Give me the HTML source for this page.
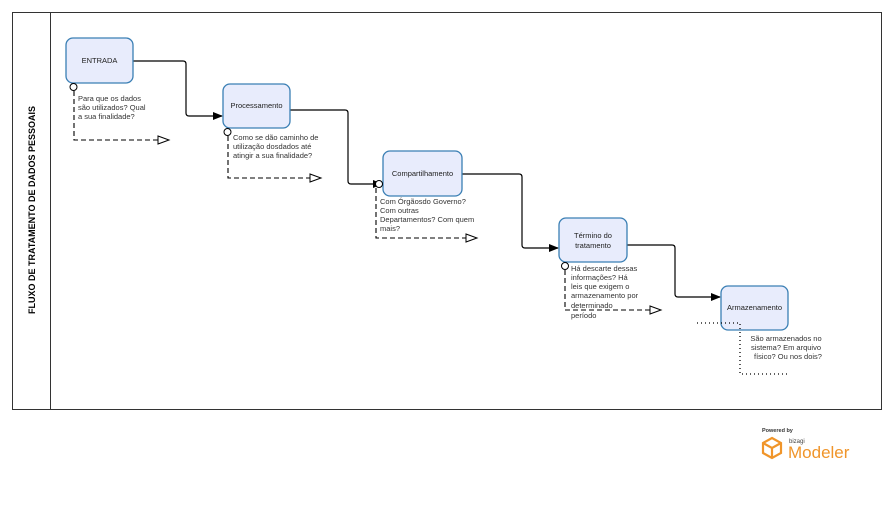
<!DOCTYPE html>
<html><head><meta charset="utf-8"><style>
html,body{margin:0;padding:0;background:#fff;}
svg{display:block;font-family:"Liberation Sans","DejaVu Sans",sans-serif;}
</style></head><body>
<svg width="894" height="519" viewBox="0 0 894 519" xmlns="http://www.w3.org/2000/svg">
<rect x="12.5" y="12.5" width="869" height="397" fill="#fff" stroke="#333" stroke-width="1"/>
<line x1="50.5" y1="12.5" x2="50.5" y2="409.5" stroke="#333"/>
<text transform="translate(35,210) rotate(-90)" text-anchor="middle" font-size="9" font-weight="bold" fill="#000">FLUXO DE TRATAMENTO DE DADOS PESSOAIS</text>

<defs>
<marker id="a" markerWidth="10" markerHeight="10" refX="9" refY="5" orient="auto" markerUnits="userSpaceOnUse"><path d="M0,1 L10,5 L0,9 Z" fill="#000"/></marker>
</defs>

<g fill="none" stroke="#000" stroke-width="1.2">
<path d="M133,61 H183 Q186,61 186,64 V113 Q186,116 189,116 H222" marker-end="url(#a)"/>
<path d="M290,110 H345 Q348,110 348,113 V181 Q348,184 351,184 H382" marker-end="url(#a)"/>
<path d="M462,174 H519 Q522,174 522,177 V245 Q522,248 525,248 H558" marker-end="url(#a)"/>
<path d="M627,245 H672 Q675,245 675,248 V294 Q675,297 678,297 H720" marker-end="url(#a)"/>
</g>

<g fill="#e8ecfc" stroke="#3a7fb4" stroke-width="1.3">
<rect x="66" y="38" width="67" height="45" rx="7"/>
<rect x="223" y="84" width="67" height="44" rx="7"/>
<rect x="383" y="151" width="79" height="45" rx="7"/>
<rect x="559" y="218" width="68" height="44" rx="7"/>
<rect x="721" y="286" width="67" height="44" rx="7"/>
</g>
<g font-size="7.5" fill="#222" text-anchor="middle">
<text x="99.5" y="63">ENTRADA</text>
<text x="256.5" y="108">Processamento</text>
<text x="422.5" y="176">Compartilhamento</text>
<text x="593" y="238">Término do</text>
<text x="593" y="248">tratamento</text>
<text x="754.5" y="310">Armazenamento</text>
</g>

<g fill="none" stroke="#000" stroke-width="1.1" stroke-dasharray="5,3">
<path d="M74,91 V140 H158"/>
<path d="M228,136 V178 H310"/>
<path d="M376,188 V238 H466"/>
<path d="M565,270 V310 H650"/>
</g>
<g fill="#fff" stroke="#000" stroke-width="1">
<path d="M158,136 L169,140 L158,144 Z"/>
<path d="M310,174 L321,178 L310,182 Z"/>
<path d="M466,234 L477,238 L466,242 Z"/>
<path d="M650,306 L661,310 L650,314 Z"/>
<circle cx="73.5" cy="87" r="3.5"/>
<circle cx="227.5" cy="132" r="3.5"/>
<circle cx="379" cy="184" r="3.5"/>
<circle cx="565" cy="266" r="3.5"/>
</g>

<g fill="none" stroke="#000" stroke-width="1.3" stroke-dasharray="1,3">
<path d="M697,323 H740 V374 H787"/>
</g>

<g font-size="7.5" fill="#333">
<text x="78" y="101">Para que os dados</text>
<text x="78" y="110">são utilizados? Qual</text>
<text x="78" y="119">a sua finalidade?</text>
<text x="233" y="140">Como se dão caminho de</text>
<text x="233" y="149">utilização dosdados até</text>
<text x="233" y="158">atingir a sua finalidade?</text>
<text x="380" y="204">Com Órgãosdo Governo?</text>
<text x="380" y="213">Com outras</text>
<text x="380" y="222">Departamentos? Com quem</text>
<text x="380" y="231">mais?</text>
<text x="571" y="271">Há descarte dessas</text>
<text x="571" y="280">informações?  Há</text>
<text x="571" y="289">leis que exigem o</text>
<text x="571" y="298">armazenamento por</text>
<text x="571" y="308">determinado</text>
<text x="571" y="318">período</text>
</g>
<g font-size="7.5" fill="#333" text-anchor="middle">
<text x="786" y="341">São armazenados no</text>
<text x="786" y="350">sistema? Em arquivo</text>
<text x="788" y="359">físico? Ou nos dois?</text>
</g>

<text x="762" y="432" font-size="5.5" font-weight="bold" fill="#333">Powered by</text>
<g fill="none" stroke="#f0952a" stroke-width="2.2">
<path d="M772,438 L781,443 V453 L772,458 L763,453 V443 Z"/>
<path d="M763,443 L772,448 L781,443 M772,448 V458"/>
</g>
<text x="789" y="443" font-size="6" fill="#444">bizagi</text>
<text x="788" y="458" font-size="17" fill="#f0952a">Modeler</text>
</svg>
</body></html>
